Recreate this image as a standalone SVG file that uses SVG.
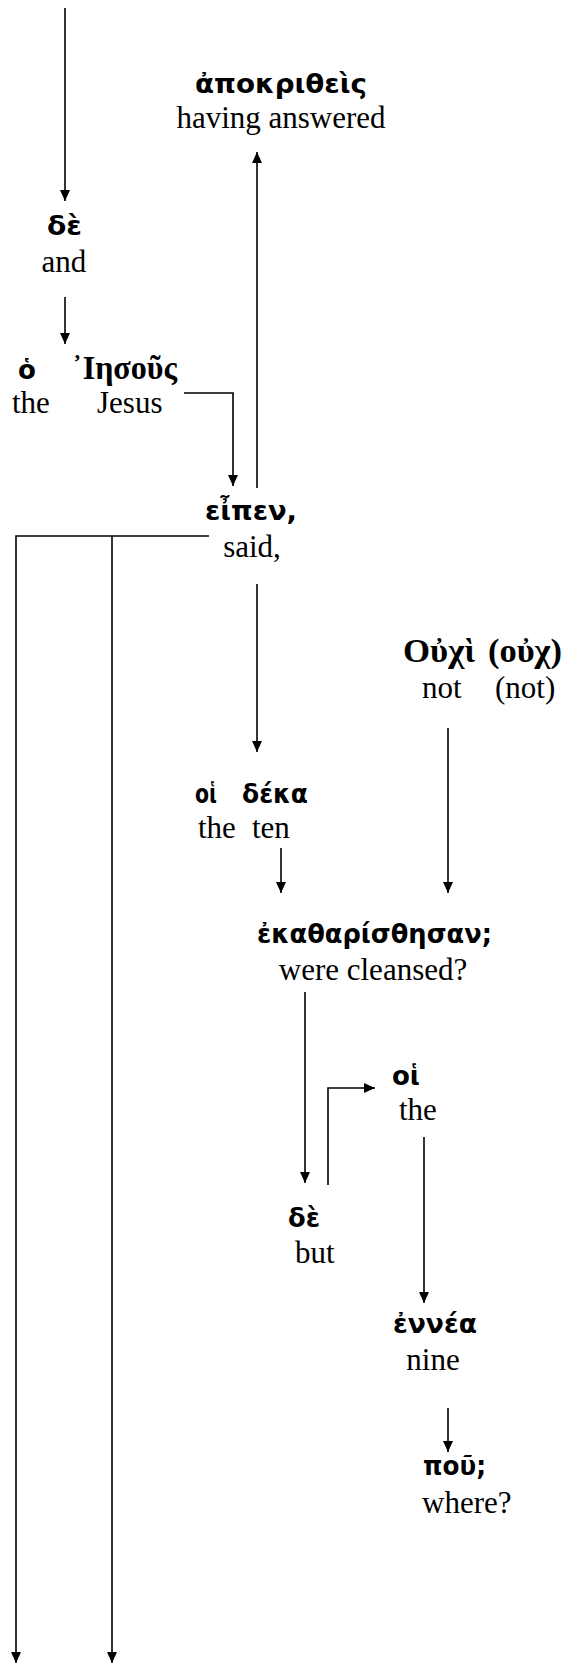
<svg xmlns="http://www.w3.org/2000/svg" width="566" height="1664" viewBox="0 0 566 1664">
<style>
.g{font-family:"DejaVu Sans","Noto Sans",sans-serif;font-weight:bold;font-size:26px;fill:#000}
.gs{font-family:"Liberation Serif","Times New Roman",serif;font-weight:bold;font-size:33px;fill:#000}
.e{font-family:"Liberation Serif","Times New Roman",serif;font-size:31px;fill:#000}
.m{text-anchor:middle}
.c{fill:none;stroke:#000;stroke-width:1.6}
</style>
<defs>
<marker id="ah" markerUnits="userSpaceOnUse" markerWidth="11" markerHeight="10" refX="11" refY="5" orient="auto">
<path d="M0,0 L11,5 L0,10 z" fill="#000"/>
</marker>
</defs>
<g id="connectors">
<path class="c" d="M65,8 V201" marker-end="url(#ah)"/>
<path class="c" d="M65,297 V344" marker-end="url(#ah)"/>
<path class="c" d="M184,393 H233 V486" marker-end="url(#ah)"/>
<path class="c" d="M257,488 V152" marker-end="url(#ah)"/>
<path class="c" d="M209,536 H16 V1663" marker-end="url(#ah)"/>
<path class="c" d="M112,536 V1663" marker-end="url(#ah)"/>
<path class="c" d="M257,584 V752" marker-end="url(#ah)"/>
<path class="c" d="M448,728 V893" marker-end="url(#ah)"/>
<path class="c" d="M281,848 V893" marker-end="url(#ah)"/>
<path class="c" d="M305,992 V1183" marker-end="url(#ah)"/>
<path class="c" d="M328,1185 V1088 H375" marker-end="url(#ah)"/>
<path class="c" d="M424,1137 V1303" marker-end="url(#ah)"/>
<path class="c" d="M448,1408 V1452" marker-end="url(#ah)"/>
</g>
<g id="apokritheis">
<text class="g" x="195" y="93" textLength="172" lengthAdjust="spacingAndGlyphs">ἀποκριθεὶς</text>
<text class="e m" x="281" y="128">having answered</text>
</g>
<g id="de1">
<text class="g" x="47" y="235" textLength="35" lengthAdjust="spacingAndGlyphs">δὲ</text>
<text class="e m" x="64" y="272">and</text>
</g>
<g id="ho">
<text class="g" x="18" y="379">ὁ</text>
<text class="e" x="12" y="413">the</text>
</g>
<g id="iesous">
<text class="gs" x="72" y="379" textLength="105" lengthAdjust="spacingAndGlyphs">᾿Ιησοῦς</text>
<text class="e" x="97" y="413">Jesus</text>
</g>
<g id="eipen">
<text class="g" x="205" y="520" textLength="92" lengthAdjust="spacingAndGlyphs">εἶπεν,</text>
<text class="e m" x="252" y="557">said,</text>
</g>
<g id="ouchi">
<text class="gs" x="403" y="662" textLength="72" lengthAdjust="spacingAndGlyphs">Οὐχὶ</text>
<text class="gs" x="488" y="662" textLength="74" lengthAdjust="spacingAndGlyphs">(οὐχ)</text>
<text class="e" x="422" y="698">not</text>
<text class="e" x="495" y="698">(not)</text>
</g>
<g id="hoi-deka">
<text class="g" x="195" y="803" textLength="22" lengthAdjust="spacingAndGlyphs">οἱ</text>
<text class="g" x="242" y="803" textLength="66" lengthAdjust="spacingAndGlyphs">δέκα</text>
<text class="e" x="198" y="838">the</text>
<text class="e" x="252" y="838">ten</text>
</g>
<g id="ekatharisthesan">
<text class="g" x="257" y="943" textLength="235" lengthAdjust="spacingAndGlyphs">ἐκαθαρίσθησαν;</text>
<text class="e m" x="373" y="980">were cleansed?</text>
</g>
<g id="de2">
<text class="g" x="288" y="1227" textLength="32" lengthAdjust="spacingAndGlyphs">δὲ</text>
<text class="e" x="295" y="1263">but</text>
</g>
<g id="hoi2">
<text class="g" x="392" y="1085" textLength="28" lengthAdjust="spacingAndGlyphs">οἱ</text>
<text class="e" x="399" y="1120">the</text>
</g>
<g id="ennea">
<text class="g" x="393" y="1333" textLength="84" lengthAdjust="spacingAndGlyphs">ἐννέα</text>
<text class="e m" x="433" y="1370">nine</text>
</g>
<g id="pou">
<text class="g" x="423" y="1475" textLength="63" lengthAdjust="spacingAndGlyphs">ποῦ;</text>
<text class="e" x="422" y="1513">where?</text>
</g>
</svg>
